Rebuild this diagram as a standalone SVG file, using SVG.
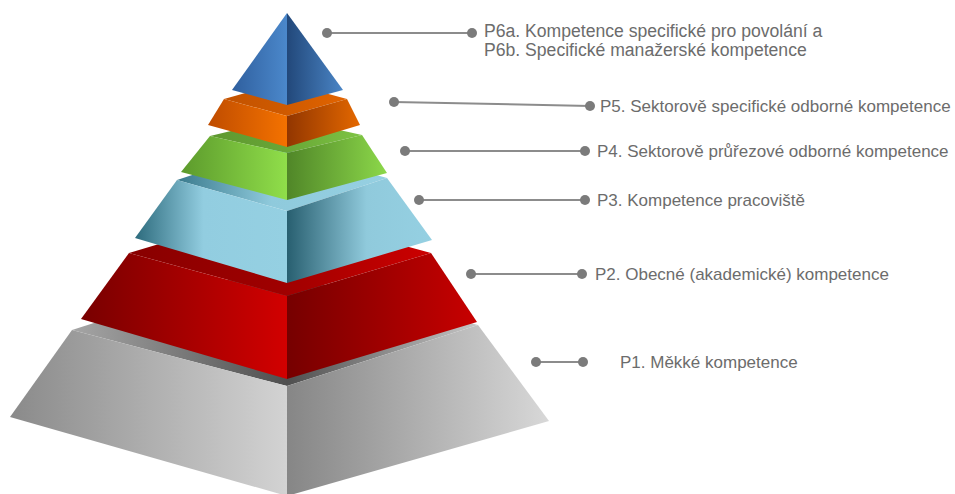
<svg xmlns="http://www.w3.org/2000/svg" width="955" height="494" viewBox="0 0 955 494">
<defs>
  <linearGradient id="grayL" x1="0" y1="0" x2="1" y2="0"><stop offset="0" stop-color="#8a8a8a"/><stop offset="1" stop-color="#d3d3d3"/></linearGradient>
  <linearGradient id="grayR" x1="0" y1="0" x2="1" y2="0"><stop offset="0" stop-color="#868686"/><stop offset="1" stop-color="#d8d8d8"/></linearGradient>
  <linearGradient id="grayT" x1="0" y1="0" x2="1" y2="0"><stop offset="0" stop-color="#a6a6a6"/><stop offset="0.53" stop-color="#4f4f4f"/><stop offset="1" stop-color="#c6c6c6"/></linearGradient>
  <linearGradient id="redL" x1="0" y1="0" x2="1" y2="0"><stop offset="0" stop-color="#780000"/><stop offset="1" stop-color="#d20000"/></linearGradient>
  <linearGradient id="redR" x1="0" y1="0" x2="1" y2="0"><stop offset="0" stop-color="#760000"/><stop offset="1" stop-color="#c80000"/></linearGradient>
  <linearGradient id="redT" x1="0" y1="0" x2="1" y2="0"><stop offset="0" stop-color="#880000"/><stop offset="0.52" stop-color="#a00000"/><stop offset="1" stop-color="#cc0000"/></linearGradient>
  <linearGradient id="cyanL" x1="0" y1="0" x2="1" y2="0"><stop offset="0" stop-color="#2d6b7d"/><stop offset="0.45" stop-color="#92cde0"/><stop offset="1" stop-color="#95d0e2"/></linearGradient>
  <linearGradient id="cyanR" x1="0" y1="0" x2="1" y2="0"><stop offset="0" stop-color="#285f70"/><stop offset="0.55" stop-color="#90cadc"/><stop offset="1" stop-color="#95d0e2"/></linearGradient>
  <linearGradient id="cyanT" x1="0" y1="0" x2="1" y2="0"><stop offset="0" stop-color="#3a7a8d"/><stop offset="0.45" stop-color="#8fcadc"/><stop offset="1" stop-color="#96d0e2"/></linearGradient>
  <linearGradient id="greenL" x1="0" y1="0" x2="1" y2="0"><stop offset="0" stop-color="#5c9a2c"/><stop offset="1" stop-color="#90de4a"/></linearGradient>
  <linearGradient id="greenR" x1="0" y1="0" x2="1" y2="0"><stop offset="0" stop-color="#508628"/><stop offset="1" stop-color="#8cd84a"/></linearGradient>
  <linearGradient id="greenT" x1="0" y1="0" x2="1" y2="0"><stop offset="0" stop-color="#5e9830"/><stop offset="0.5" stop-color="#68a636"/><stop offset="1" stop-color="#7ec444"/></linearGradient>
  <linearGradient id="orangeL" x1="0" y1="0" x2="1" y2="0"><stop offset="0" stop-color="#bf4c00"/><stop offset="1" stop-color="#f47200"/></linearGradient>
  <linearGradient id="orangeR" x1="0" y1="0" x2="1" y2="0"><stop offset="0" stop-color="#923600"/><stop offset="1" stop-color="#e46800"/></linearGradient>
  <linearGradient id="orangeT" x1="0" y1="0" x2="1" y2="0"><stop offset="0" stop-color="#c25200"/><stop offset="0.5" stop-color="#cf5a00"/><stop offset="1" stop-color="#e26400"/></linearGradient>
  <linearGradient id="blueL" x1="0" y1="0" x2="1" y2="0"><stop offset="0" stop-color="#2f5f9e"/><stop offset="1" stop-color="#4b88cb"/></linearGradient>
  <linearGradient id="blueR" x1="0" y1="0" x2="1" y2="0"><stop offset="0" stop-color="#22487a"/><stop offset="1" stop-color="#4a85c6"/></linearGradient>
</defs>
<style>
  .lbl { font-family: "Liberation Sans", Arial, sans-serif; font-size: 17px; fill: #6c6c6c; }
  .lbl6 { font-size: 17.6px; }
  .ln { stroke: #8c8c8c; stroke-width: 2; fill: none; }
  .dot { fill: #7b7b7b; }
</style>
<rect width="955" height="494" fill="#ffffff"/>

<g id="layer-p1">
  <polygon points="72,330 263,269 478,325 287,386" fill="url(#grayT)"/>
  <polygon points="72,330 287,386 287,496 10,417" fill="url(#grayL)"/>
  <polygon points="287,386 478,325 549,421 287,496" fill="url(#grayR)"/>
</g>
<g id="layer-p2">
  <polygon points="129,253 273,210 431,253 287,296" fill="url(#redT)"/>
  <polygon points="129,253 287,296 287,379 81,319" fill="url(#redL)"/>
  <polygon points="287,296 431,253 477,322 287,379" fill="url(#redR)"/>
</g>
<g id="layer-p3">
  <polygon points="177,180 277,147 387,178 287,211" fill="url(#cyanT)"/>
  <polygon points="177,180 287,211 287,283 135,238" fill="url(#cyanL)"/>
  <polygon points="287,211 387,178 432,240 287,283" fill="url(#cyanR)"/>
</g>
<g id="layer-p4">
  <polygon points="210,136 285,118 362,135 287,153" fill="url(#greenT)"/>
  <polygon points="210,136 287,153 287,200 181,172" fill="url(#greenL)"/>
  <polygon points="287,153 362,135 387,173 287,200" fill="url(#greenR)"/>
</g>
<g id="layer-p5">
  <polygon points="224,99 284,82 347,99 287,116" fill="url(#orangeT)"/>
  <polygon points="224,99 287,116 287,147 208,125" fill="url(#orangeL)"/>
  <polygon points="287,116 347,99 360,125 287,147" fill="url(#orangeR)"/>
</g>
<g id="layer-p6">
  <polygon points="287,13 287,105 232,90" fill="url(#blueL)"/>
  <polygon points="287,13 343,90 287,105" fill="url(#blueR)"/>
</g>

<g id="connectors">
  <line class="ln" x1="327" y1="33" x2="472" y2="33"/>
  <circle class="dot" cx="327" cy="33" r="5"/><circle class="dot" cx="472" cy="33" r="5"/>
  <line class="ln" x1="394" y1="102" x2="590" y2="106"/>
  <circle class="dot" cx="394" cy="102" r="5"/><circle class="dot" cx="590" cy="106" r="5"/>
  <line class="ln" x1="405" y1="151" x2="585" y2="151"/>
  <circle class="dot" cx="405" cy="151" r="5"/><circle class="dot" cx="585" cy="151" r="5"/>
  <line class="ln" x1="419" y1="200" x2="585" y2="200"/>
  <circle class="dot" cx="419" cy="200" r="5"/><circle class="dot" cx="585" cy="200" r="5"/>
  <line class="ln" x1="471" y1="274" x2="582" y2="274"/>
  <circle class="dot" cx="471" cy="274" r="5"/><circle class="dot" cx="582" cy="274" r="5"/>
  <line class="ln" x1="536" y1="362" x2="583" y2="362"/>
  <circle class="dot" cx="536" cy="362" r="5"/><circle class="dot" cx="583" cy="362" r="5"/>
</g>

<g id="label-p6">
  <text class="lbl lbl6" x="484" y="37">P6a. Kompetence specifické pro povolání a</text>
  <text class="lbl lbl6" x="484" y="56">P6b. Specifické manažerské kompetence</text>
</g>
<g id="label-p5"><text class="lbl" x="600" y="112">P5. Sektorově specifické odborné kompetence</text></g>
<g id="label-p4"><text class="lbl" x="597" y="157">P4. Sektorově průřezové odborné kompetence</text></g>
<g id="label-p3"><text class="lbl" x="597" y="206">P3. Kompetence pracoviště</text></g>
<g id="label-p2"><text class="lbl" x="595" y="280">P2. Obecné (akademické) kompetence</text></g>
<g id="label-p1"><text class="lbl" x="620" y="368">P1. Měkké kompetence</text></g>
</svg>
